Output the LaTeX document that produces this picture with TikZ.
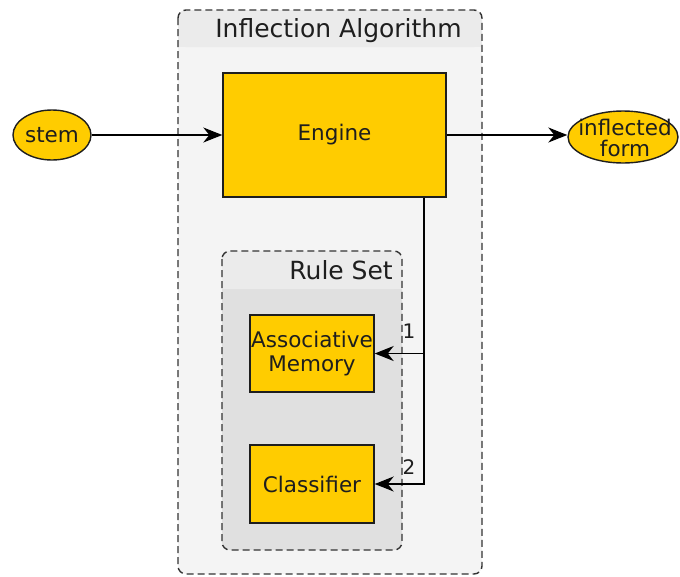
\documentclass[tikz,border=0pt]{standalone}
\usepackage{fontspec}
\setmainfont{DejaVu Sans}
\usetikzlibrary{arrows.meta,shapes.geometric}
\definecolor{gold}{HTML}{FFCC00}
\definecolor{ink}{HTML}{1E1E1E}
\definecolor{edgegray}{HTML}{333333}
\definecolor{outerbody}{HTML}{F4F4F4}
\definecolor{outerband}{HTML}{EBEBEB}
\definecolor{innerbody}{HTML}{E0E0E0}
\definecolor{innerband}{HTML}{EBEBEB}
\tikzset{
  box/.style={draw=ink, fill=gold, line width=1.4pt, inner sep=0pt, align=center,
              font=\fontsize{21.5}{24}\selectfont, text=ink},
  blob/.style={ellipse, draw=ink, fill=gold, line width=1.4pt, inner sep=0pt, align=center,
               font=\fontsize{21.5}{21}\selectfont, text=ink},
  blobtext/.style={inner sep=0pt, align=center, font=\fontsize{21.5}{21}\selectfont, text=ink},
  frame/.style={draw=edgegray, dash pattern=on 7pt off 4pt, line width=1.4pt, rounded corners=8pt},
  ctitle/.style={font=\fontsize{25}{28}\selectfont, text=ink, inner sep=0pt},
  arr/.style={draw=black, line width=1.4pt, -{Stealth[length=19pt,width=15pt,inset=6pt]}},
  elabel/.style={font=\fontsize{20}{22}\selectfont, text=ink, inner sep=0pt}
}
\begin{document}
\begin{tikzpicture}[x=1pt,y=-1pt]
\useasboundingbox (0,0) rectangle (680,576);
% outer cluster: Inflection Algorithm
\fill[outerbody, rounded corners=8pt] (178,10) rectangle (482,574);
\fill[outerband, rounded corners=8pt] (178,10) -- (178,47) -- (482,47) -- (482,10) -- cycle;
\fill[outerband] (178,30) rectangle (482,47);
\draw[frame] (178,10) rectangle (482,574);
\node[ctitle, anchor=base] (algtitle) at (338.5,37) {Inflection Algorithm};
% inner cluster: Rule Set
\fill[innerbody, rounded corners=8pt] (222,251) rectangle (402,550);
\fill[innerband, rounded corners=8pt] (222,251) -- (222,289) -- (402,289) -- (402,251) -- cycle;
\fill[innerband] (222,270) rectangle (402,289);
\draw[frame] (222,251) rectangle (402,550);
\node[ctitle, anchor=base east] (ruletitle) at (393,279) {Rule Set};
% nodes
\node[box, minimum width=223pt, minimum height=124pt] (engine) at (334.5,135) {Engine};
\node[box, minimum width=124pt, minimum height=77pt] (memory) at (312,353.5) {Associative\\Memory};
\node[box, minimum width=124pt, minimum height=78pt] (classifier) at (312,484) {Classifier};
\node[blob, minimum width=78pt, minimum height=50pt] (stem) at (52,135) {stem};
% the output ellipse is narrower than its label, so the label is set on top of it
\node[blob, minimum width=110pt, minimum height=52pt] (inflected) at (623,137) {};
\node[blobtext] (inflectedtext) at (625,138) {inflected\\form};
% connectors
\draw[arr] (stem.east) -- (engine.west |- stem.east);
\draw[arr] (engine.east) -- (engine.east -| inflected.west);
\coordinate (split) at (424,353.5);
\draw[arr] (engine.south -| split) |- (classifier.east);
\draw[arr] (split) -- (memory.east);
\node[elabel] (lab1) at (409,331) {1};
\node[elabel] (lab2) at (409,467) {2};
\end{tikzpicture}
\end{document}
